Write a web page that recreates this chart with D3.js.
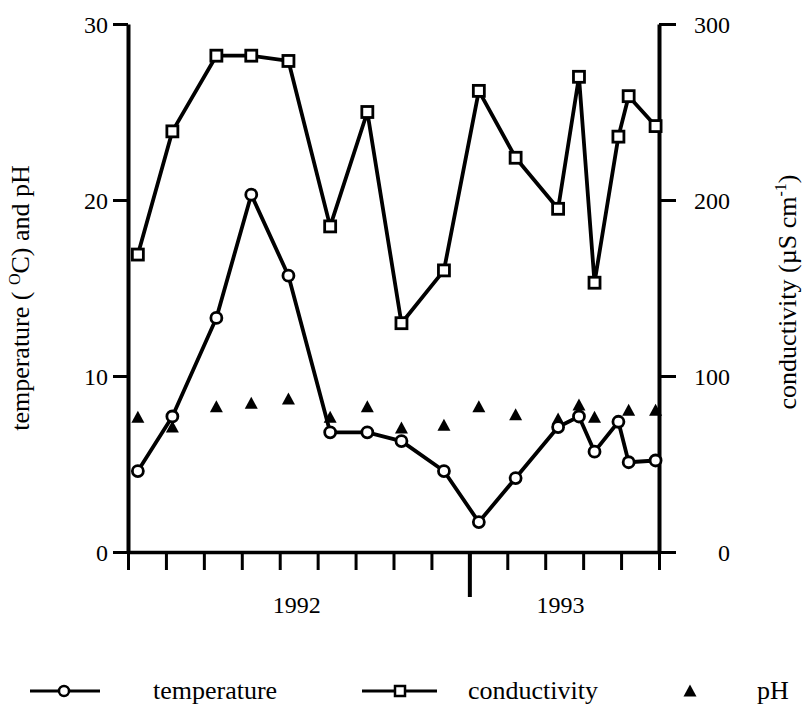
<!DOCTYPE html>
<html>
<head>
<meta charset="utf-8">
<script src="https://cdn.jsdelivr.net/npm/d3@7"></script>
<style>
  html, body { margin: 0; padding: 0; background: #fff; }
  svg { display: block; }
  svg text { font-family: "Liberation Serif", "DejaVu Serif", "Noto Serif", "Times New Roman", Times, serif !important; fill: #000; }
</style>
</head>
<body>
<svg id="chart" width="804" height="709" font-family="Liberation Serif, DejaVu Serif, serif"></svg>
<script>
// ---- data ----
const sampleMonth = [0.26, 1.17, 2.33, 3.25, 4.23, 5.33, 6.31, 7.21, 8.33, 9.25, 10.22, 11.34, 11.89, 12.30, 12.93, 13.20, 13.91];
const temperature = [4.6, 7.7, 13.3, 20.3, 15.7, 6.8, 6.8, 6.3, 4.6, 1.7, 4.2, 7.1, 7.7, 5.7, 7.4, 5.1, 5.2];
const conductivity = [169, 239, 282, 282, 279, 185, 250, 130, 160, 262, 224, 195, 270, 153, 236, 259, 242];
const pH = [7.65, 7.1, 8.25, 8.45, 8.7, 7.65, 8.25, 7.05, 7.2, 8.25, 7.8, 7.55, 8.35, 7.65, null, 8.05, 8.05];
const monthTicks = [0, 1, 2, 3, 4, 5, 6, 7, 8, 9, 10, 11, 12, 13, 14];
const yearBoundary = [9];
const yearLabels = ["1992", "1993"];
const yearLabelPos = [4.45, 11.4];
const leftTicks = [0, 10, 20, 30];
const rightTicks = [0, 100, 200, 300];
const legendLabels = ["temperature", "conductivity", "pH"];

// ---- layout ----
const FONT = "Liberation Serif, DejaVu Serif, serif";
const svg = d3.select("#chart");
svg.append("rect").attr("width", 804).attr("height", 709).attr("fill", "#fff");

const x = d3.scaleLinear().domain([0, 14]).range([128, 659]);
const yL = d3.scaleLinear().domain([0, 30]).range([552, 24]);
const yR = d3.scaleLinear().domain([0, 300]).range([552, 24]);

// bottom axis
const gx = svg.append("g").attr("transform", "translate(0,552)")
  .call(d3.axisBottom(x).tickValues(monthTicks).tickSize(18).tickSizeOuter(0).tickFormat(""));
gx.select(".domain").attr("stroke-width", 3.5);
gx.selectAll(".tick line").attr("stroke-width", 3);

const gxl = svg.append("g").attr("transform", "translate(0,552)")
  .call(d3.axisBottom(x).tickValues(yearBoundary).tickSize(45).tickFormat(""));
gxl.select(".domain").remove();
gxl.selectAll(".tick line").attr("stroke-width", 4);

svg.append("g").selectAll("text").data(yearLabels).join("text")
  .attr("x", (d, i) => x(yearLabelPos[i]))
  .attr("y", 613)
  .attr("text-anchor", "middle")
  .attr("font-size", 24)
  .text(d => d);

// left axis
const gl = svg.append("g").attr("transform", "translate(128,0)")
  .call(d3.axisLeft(yL).tickValues(leftTicks).tickSize(15).tickSizeOuter(0).tickPadding(5));
gl.select(".domain").attr("stroke-width", 4);
gl.selectAll(".tick line").attr("stroke-width", 3);
gl.selectAll(".tick text").attr("font-size", 24).attr("dy", "0.36em");

// right axis
const gr = svg.append("g").attr("transform", "translate(659,0)")
  .call(d3.axisRight(yR).tickValues(rightTicks).tickSize(17).tickSizeOuter(0));
gr.select(".domain").attr("stroke-width", 4);
gr.selectAll(".tick line").attr("stroke-width", 3);
gr.selectAll(".tick text").attr("font-size", 24)
  .attr("text-anchor", "end").attr("x", 71).attr("dy", "0.36em");
svg.selectAll("g").attr("font-family", FONT);
svg.selectAll(".tick text").attr("fill", "#000");
svg.selectAll(".domain, .tick line").attr("stroke", "#000");

// axis titles
const tl = svg.append("text").attr("transform", "translate(29,298) rotate(-90)")
  .attr("text-anchor", "middle").attr("font-size", 26);
tl.append("tspan").text("temperature ( ");
tl.append("tspan").attr("font-size", 16).attr("dy", -9).text("O");
tl.append("tspan").attr("dy", 9).text("C) and pH");

const tr = svg.append("text").attr("transform", "translate(796,292) rotate(-90)")
  .attr("text-anchor", "middle").attr("font-size", 26);
tr.append("tspan").text("conductivity (\u00B5S cm");
tr.append("tspan").attr("font-size", 16).attr("dy", -10).text("-1");
tr.append("tspan").attr("dy", 10).text(")");

// ---- series ----
const idx = d3.range(sampleMonth.length);
const lineT = d3.line().x(i => x(sampleMonth[i])).y(i => yL(temperature[i]));
const lineC = d3.line().x(i => x(sampleMonth[i])).y(i => yR(conductivity[i]));

svg.append("path").attr("d", lineC(idx)).attr("fill", "none").attr("stroke", "#000").attr("stroke-width", 3.8).attr("stroke-linejoin", "round");
svg.append("path").attr("d", lineT(idx)).attr("fill", "none").attr("stroke", "#000").attr("stroke-width", 3.8).attr("stroke-linejoin", "round");

const tri = "M0,-6.5L6.5,5.5L-6.5,5.5Z";
svg.append("g").selectAll("path").data(idx.filter(i => pH[i] != null)).join("path")
  .attr("d", tri)
  .attr("transform", i => `translate(${x(sampleMonth[i])},${yL(pH[i])})`)
  .attr("fill", "#000");

svg.append("g").selectAll("rect").data(idx).join("rect")
  .attr("x", i => x(sampleMonth[i]) - 5.5)
  .attr("y", i => yR(conductivity[i]) - 5.5)
  .attr("width", 11).attr("height", 11)
  .attr("fill", "#fff").attr("stroke", "#000").attr("stroke-width", 2.8);

svg.append("g").selectAll("circle").data(idx).join("circle")
  .attr("cx", i => x(sampleMonth[i]))
  .attr("cy", i => yL(temperature[i]))
  .attr("r", 5.5)
  .attr("fill", "#fff").attr("stroke", "#000").attr("stroke-width", 2.8);

// ---- legend ----
const ly = 691;
const lg = svg.append("g");
lg.append("line").attr("x1", 30).attr("x2", 100).attr("y1", ly).attr("y2", ly).attr("stroke", "#000").attr("stroke-width", 3);
lg.append("circle").attr("cx", 64).attr("cy", ly).attr("r", 5).attr("fill", "#fff").attr("stroke", "#000").attr("stroke-width", 2.5);
lg.append("line").attr("x1", 362).attr("x2", 437).attr("y1", ly).attr("y2", ly).attr("stroke", "#000").attr("stroke-width", 3);
lg.append("rect").attr("x", 395).attr("y", ly - 5).attr("width", 10).attr("height", 10).attr("fill", "#fff").attr("stroke", "#000").attr("stroke-width", 2.5);
lg.append("path").attr("d", tri).attr("transform", `translate(690,${ly})`).attr("fill", "#000");
const legendX = [153, 468, 757];
lg.selectAll("text").data(legendLabels).join("text")
  .attr("x", (d, i) => legendX[i]).attr("y", ly + 8)
  .attr("font-size", 26)
  .text(d => d);
</script>
</body>
</html>
